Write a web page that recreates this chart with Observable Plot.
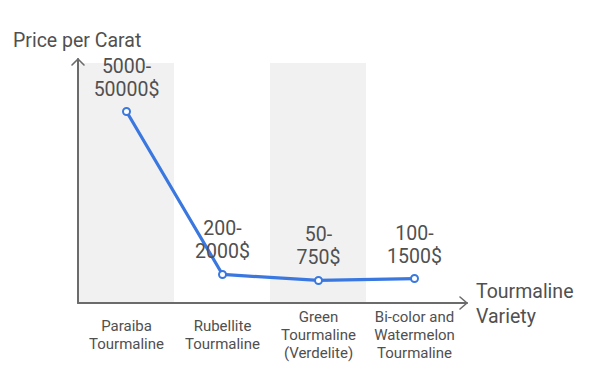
<!DOCTYPE html>
<html>
<head>
<meta charset="utf-8">
<script src="https://cdn.jsdelivr.net/npm/d3@7"></script>
<script src="https://cdn.jsdelivr.net/npm/@observablehq/plot@0.6"></script>
<style>
  html, body { margin: 0; padding: 0; background: #fff; }
  #chart { width: 609px; height: 374px; }
</style>
</head>
<body>
<div id="chart"></div>
<script>
// Data
const varieties = ["Paraiba", "Rubellite", "Green", "Bicolor"];
const tickLabels = ["Paraiba\nTourmaline", "Rubellite\nTourmaline", "Green\nTourmaline\n(Verdelite)", "Bi-color and\nWatermelon\nTourmaline"];
const priceLevel = [80, 12.1, 9.6, 10.4]; // relative level on a 0–100 scale
const priceLabels = ["5000-\n50000$", "200-\n2000$", "50-\n750$", "100-\n1500$"];
const bandShaded = [true, false, true, false];
const yTitle = "Price per Carat";
const xTitle = "Tourmaline\nVariety";

const rows = varieties.map((v, i) => ({
  variety: v, tick: tickLabels[i], value: priceLevel[i], label: priceLabels[i], shaded: bandShaded[i]
}));

const textColor = "#505050";
const axisColor = "#6b6b6b";
const lineColor = "#3a78e0";

function axesMark(index, scales, values, dimensions) {
  const x = scales.x, y = scales.y;
  const x0 = x.range()[0];
  const x1 = x.range()[1];
  const y0 = y(0), yTop = y(100);
  const g = d3.create("svg:g").attr("fill", "none").attr("stroke", axisColor)
    .attr("stroke-width", 2).attr("stroke-linecap", "round").attr("stroke-linejoin", "round");
  const xEnd = x1 + 5, yEnd = yTop - 4;
  g.append("path").attr("d", `M${x0},${y0}H${xEnd}`);
  g.append("path").attr("d", `M${x0},${y0}V${yEnd}`);
  g.append("path").attr("d", `M${xEnd - 7},${y0 - 6}L${xEnd},${y0}L${xEnd - 7},${y0 + 6}`).attr("stroke-width", 1.6);
  g.append("path").attr("d", `M${x0 - 6},${yEnd + 6}L${x0},${yEnd}L${x0 + 6},${yEnd + 6}`).attr("stroke-width", 1.6);
  // axis titles
  const t = g.append("g").attr("stroke", "none").attr("fill", textColor)
    .attr("text-anchor", "start")
    .attr("font-family", "Roboto, sans-serif").attr("font-size", 19.5);
  t.append("text").attr("x", 13).attr("y", yTop - 16).text(yTitle);
  const xt = t.append("text").attr("x", xEnd + 9).attr("y", y0 - 5);
  xTitle.split("\n").forEach((s, i) => xt.append("tspan").attr("x", xEnd + 9).attr("dy", i ? 24.5 : 0).text(s));
  return g.node();
}

const chart = Plot.plot({
  width: 609,
  height: 374,
  marginLeft: 78,
  marginRight: 147,
  marginTop: 63,
  marginBottom: 71,
  style: { fontFamily: "Roboto, sans-serif", background: "#fff" },
  x: { type: "band", domain: varieties, padding: 0, axis: null },
  y: { domain: [0, 100], axis: null },
  marks: [
    Plot.barY(rows.filter(d => d.shaded), { x: "variety", y1: 0, y2: 100, fill: "#f1f1f1", inset: 0 }),
    Plot.line(rows, { x: "variety", y: "value", stroke: lineColor, strokeWidth: 3.2 }),
    Plot.dot(rows, { x: "variety", y: "value", r: 3.5, fill: "#fff", stroke: lineColor, strokeWidth: 2 }),
    Plot.text(rows, { x: "variety", y: "value", text: "label", lineAnchor: "bottom", dy: -16, fontSize: 19.5, fill: textColor, lineHeight: 1.18 }),
    Plot.text(rows, { x: "variety", text: "tick", frameAnchor: "bottom", dy: 31, lineAnchor: "middle", fontSize: 15, fill: textColor, lineHeight: 1.2 }),
    axesMark
  ]
});
document.getElementById("chart").appendChild(chart);
</script>
</body>
</html>
